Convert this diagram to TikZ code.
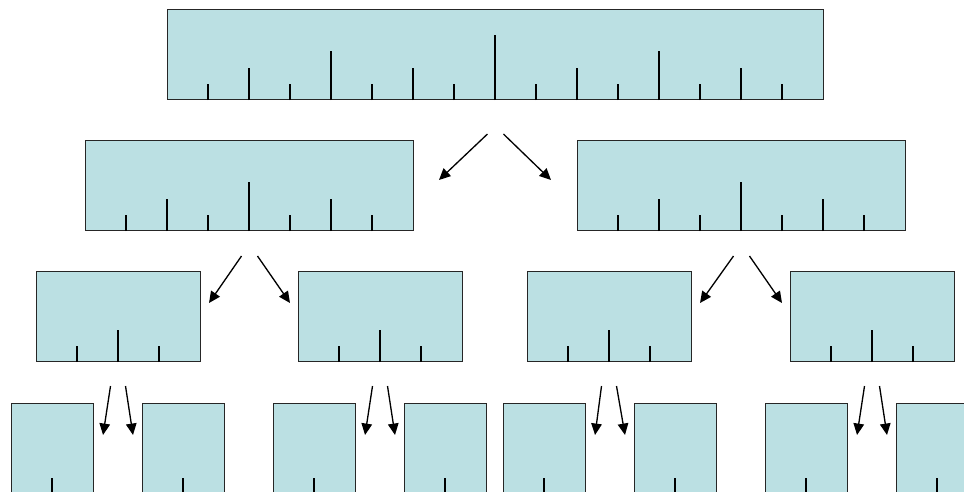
\documentclass[tikz,border=0pt]{standalone}
\usetikzlibrary{arrows.meta,calc}

\definecolor{rulerfill}{RGB}{187,224,227}
\tikzset{
  ruler/.style={draw=black!85, fill=rulerfill, line width=0.6pt,
    inner sep=0pt, minimum height=1.8cm, anchor=north west},
  tick/.style={line width=1.2pt},
  split/.style={-{Triangle[length=6.5pt,width=6pt]}, line width=0.75pt}
}
% ticks along the lower edge of a ruler box
\newcommand{\RulerTicks}[2]{%
  \foreach \h [count=\i] in {#2}
    \draw[tick] (#1.south west) ++(\i*41,0) -- ++(0,-\h);}

\begin{document}
\begin{tikzpicture}[x=0.02cm,y=-0.02cm]
      \useasboundingbox (0,0) rectangle (964,492);
      \clip (0,0) rectangle (964,492);

      \node[ruler,minimum width=13.12cm] (r) at (167,9) {};
      \RulerTicks{r}{16,32,16,49,16,32,16,65,16,32,16,49,16,32,16}

      \node[ruler,minimum width=6.56cm] (r-l) at (85,140) {};
      \node[ruler,minimum width=6.56cm] (r-r) at (577,140) {};
      \RulerTicks{r-l}{16,32,16,49,16,32,16}
      \RulerTicks{r-r}{16,32,16,49,16,32,16}

      \node[ruler,minimum width=3.28cm] (r-ll) at (36,271) {};
      \node[ruler,minimum width=3.28cm] (r-lr) at (298,271) {};
      \node[ruler,minimum width=3.28cm] (r-rl) at (527,271) {};
      \node[ruler,minimum width=3.28cm] (r-rr) at (790,271) {};
      \foreach \n in {ll,lr,rl,rr}{
        \RulerTicks{r-\n}{16,32,16}
      }

      \foreach \x [count=\k] in {11,142,273,404,503,634,765,896}{
        \node[ruler,minimum width=1.64cm] (a\k) at (\x,403) {};
        \RulerTicks{a\k}{16}
      }

      \draw[split] ($(r.south)+(-8,34)$) -- ($(r-l.north east)+(25,40)$);
      \draw[split] ($(r.south)+(8,34)$) -- ($(r-r.north west)+(-26,40)$);

      \draw[split] ($(r-l.south)+(-8,25)$) -- ($(r-ll.north east)+(8,32)$);
      \draw[split] ($(r-l.south)+(8,25)$) -- ($(r-lr.north west)+(-8,32)$);
      \draw[split] ($(r-r.south)+(-8,25)$) -- ($(r-rl.north east)+(8,32)$);
      \draw[split] ($(r-r.south)+(8,25)$) -- ($(r-rr.north west)+(-8,32)$);

      \draw[split] ($(r-ll.south)+(-8,24)$) -- ($(a1.north east)+(9,32)$);
      \draw[split] ($(r-ll.south)+(7,24)$) -- ($(a2.north west)+(-9,32)$);
      \draw[split] ($(r-lr.south)+(-8,24)$) -- ($(a3.north east)+(9,32)$);
      \draw[split] ($(r-lr.south)+(7,24)$) -- ($(a4.north west)+(-9,32)$);
      \draw[split] ($(r-rl.south)+(-8,24)$) -- ($(a5.north east)+(9,32)$);
      \draw[split] ($(r-rl.south)+(7,24)$) -- ($(a6.north west)+(-9,32)$);
      \draw[split] ($(r-rr.south)+(-8,24)$) -- ($(a7.north east)+(9,32)$);
      \draw[split] ($(r-rr.south)+(7,24)$) -- ($(a8.north west)+(-9,32)$);
\end{tikzpicture}
\end{document}
